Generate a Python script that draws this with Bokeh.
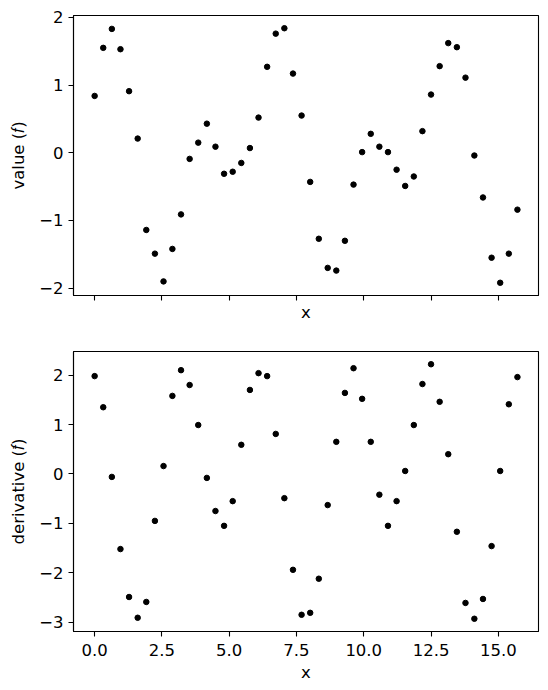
from bokeh.plotting import figure
from bokeh.layouts import column
from bokeh.models import FixedTicker, CustomJSTickFormatter, Range1d
from bokeh.embed import file_html
from bokeh.resources import INLINE

x = [0.00, 0.32, 0.64, 0.96, 1.28, 1.60, 1.92, 2.24, 2.56, 2.89,
     3.21, 3.53, 3.85, 4.17, 4.49, 4.81, 5.13, 5.45, 5.77, 6.09,
     6.41, 6.73, 7.05, 7.37, 7.69, 8.01, 8.33, 8.66, 8.98, 9.30,
     9.62, 9.94, 10.26, 10.58, 10.90, 11.22, 11.54, 11.86, 12.18, 12.50,
     12.82, 13.14, 13.46, 13.78, 14.11, 14.43, 14.75, 15.07, 15.39, 15.71]

value = [0.84, 1.55, 1.83, 1.53, 0.91, 0.21, -1.14, -1.49, -1.90, -1.42,
         -0.91, -0.09, 0.15, 0.43, 0.09, -0.31, -0.28, -0.15, 0.07, 0.52,
         1.27, 1.76, 1.84, 1.17, 0.55, -0.43, -1.27, -1.70, -1.74, -1.30,
         -0.47, 0.01, 0.28, 0.09, 0.01, -0.25, -0.49, -0.35, 0.32, 0.86,
         1.28, 1.62, 1.56, 1.11, -0.04, -0.66, -1.55, -1.92, -1.49, -0.84]

derivative = [1.98, 1.35, -0.06, -1.52, -2.49, -2.91, -2.59, -0.95, 0.16, 1.58,
              2.10, 1.80, 0.99, -0.08, -0.75, -1.05, -0.55, 0.59, 1.70, 2.04,
              1.98, 0.81, -0.49, -1.94, -2.85, -2.81, -2.12, -0.63, 0.65, 1.64,
              2.14, 1.52, 0.65, -0.42, -1.05, -0.55, 0.06, 0.99, 1.82, 2.22,
              1.46, 0.40, -1.17, -2.61, -2.93, -2.53, -1.46, 0.06, 1.41, 1.96]

x_ticks = [0, 2.5, 5, 7.5, 10, 12.5, 15]
top_y_ticks = [-2, -1, 0, 1, 2]
bottom_y_ticks = [-3, -2, -1, 0, 1, 2]

FONT = "DejaVu Sans"
FS = "16.5px"

yfmt = CustomJSTickFormatter(code="""
  var s = String(Math.abs(Math.round(tick)));
  return tick < 0 ? '\\u2212' + s : s;
""")
xfmt = CustomJSTickFormatter(code="""
  return tick.toFixed(1);
""")
blankfmt = CustomJSTickFormatter(code="""
  return '';
""")


def style(p, yticks, show_xlabels):
    p.outline_line_color = "black"
    p.outline_line_width = 1.1
    p.xgrid.visible = False
    p.ygrid.visible = False
    p.background_fill_color = "white"
    p.border_fill_color = "white"
    for ax in (p.xaxis[0], p.yaxis[0]):
        ax.axis_line_color = "black"
        ax.axis_line_width = 1.1
        ax.major_tick_line_color = "black"
        ax.major_tick_line_width = 1.1
        ax.major_tick_out = 5
        ax.major_tick_in = 0
        ax.minor_tick_line_color = None
        ax.major_label_text_font = FONT
        ax.major_label_text_font_size = FS
        ax.major_label_text_color = "black"
        ax.axis_label_text_font = FONT
        ax.axis_label_text_font_size = FS
        ax.axis_label_text_font_style = "normal"
        ax.axis_label_text_color = "black"
        ax.major_label_standoff = 5
    p.xaxis[0].ticker = FixedTicker(ticks=x_ticks)
    p.yaxis[0].ticker = FixedTicker(ticks=yticks)
    p.yaxis[0].formatter = yfmt
    p.yaxis[0].axis_label_standoff = 8
    p.xaxis[0].axis_label = "x"
    if not show_xlabels:
        p.xaxis[0].formatter = blankfmt
        p.xaxis[0].major_label_standoff = 0
        p.xaxis[0].axis_label_standoff = 2
    else:
        p.xaxis[0].formatter = xfmt
        p.xaxis[0].major_label_standoff = 7
        p.xaxis[0].axis_label_standoff = 4


p1 = figure(frame_width=465, frame_height=280, output_backend="svg", toolbar_location=None,
            x_range=Range1d(-0.785, 16.493), y_range=Range1d(-2.108, 2.028),
            min_border_left=73, min_border_right=2, min_border_top=15, min_border_bottom=38)
p1.scatter(x, value, size=5.5, color="black")
p1.yaxis[0].axis_label = "value (\U0001D453)"
style(p1, top_y_ticks, False)

p2 = figure(frame_width=465, frame_height=280, output_backend="svg", toolbar_location=None,
            x_range=p1.x_range, y_range=Range1d(-3.188, 2.478),
            min_border_left=73, min_border_right=2, min_border_top=18, min_border_bottom=45)
p2.scatter(x, derivative, size=5.5, color="black")
p2.yaxis[0].axis_label = "derivative (\U0001D453\u0307)"
style(p2, bottom_y_ticks, True)

layout = column(p1, p2, spacing=0)
open("out.html", "w").write(file_html(layout, INLINE))
